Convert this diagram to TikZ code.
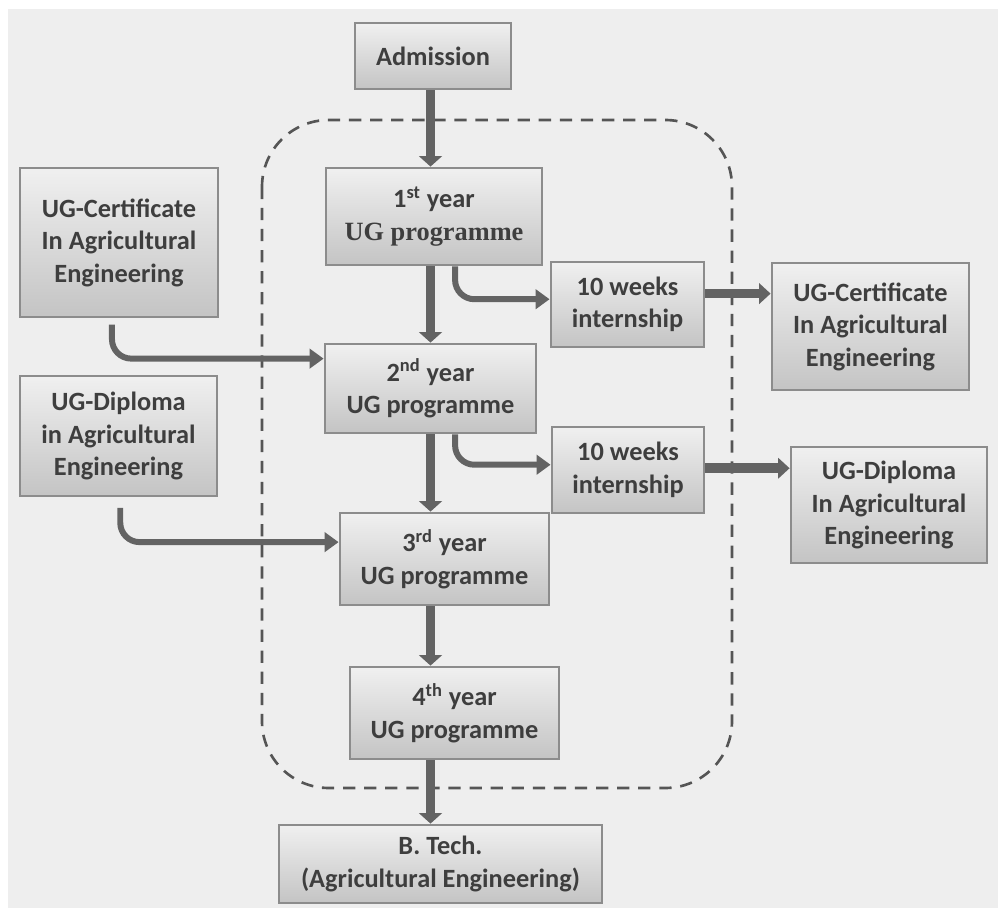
\documentclass[tikz,border=0pt]{standalone}
\usepackage{fontspec}
\setmainfont{Carlito}
\newfontfamily\yearserif{Liberation Serif}
\usetikzlibrary{arrows.meta}

\definecolor{bgfill}{HTML}{EEEEEE}
\definecolor{boxline}{HTML}{8C8C8C}
\definecolor{boxtop}{HTML}{F0F0F0}
\definecolor{boxbot}{HTML}{C4C4C4}
\definecolor{txtgray}{HTML}{3E3E3E}
\definecolor{arrowgray}{HTML}{636363}
\definecolor{framegray}{HTML}{555555}

\tikzset{
    box/.style={draw=boxline, line width=1.6pt, top color=boxtop, bottom color=boxbot,
        text=txtgray, align=center, inner sep=0pt,
        font=\fontsize{15}{18.5}\selectfont\bfseries},
    dims/.style 2 args={minimum width=#1*0.02cm, minimum height=#2*0.02cm},
    flow/.style={draw=arrowgray, line width=5pt, -{Triangle[length=6pt,width=13pt]}},
    exit/.style={draw=arrowgray, line width=5.5pt, -{Triangle[length=6.5pt,width=11.5pt]}},
    entry/.style={draw=arrowgray, line width=3.4pt, rounded corners=11pt,
        -{Triangle[length=8pt,width=11pt]}},
    track/.style={draw=framegray, line width=1.5pt, dash pattern=on 7pt off 5pt,
        rounded corners=38pt}
}

\begin{document}
\begin{tikzpicture}[x=0.02cm, y=-0.02cm]
    \useasboundingbox (0,0) rectangle (998,908);
    \fill[bgfill] (8,9) rectangle (998,908);

    \draw[track] (262,120) rectangle (732,788);

    \node[box, dims={156}{66}] (admission) at (433,56) {Admission};
    \node[box, dims={216}{97}] (year1) at (434,216.5) {1\textsuperscript{st} year\\{\yearserif UG programme}};
    \node[box, dims={198}{149}] (certL) at (119,242.5) {UG-Certificate\\In Agricultural\\Engineering};
    \node[box, dims={153}{85}] (intern1) at (627.5,304.5) {10 weeks\\internship};
    \node[box, dims={197}{127}] (certR) at (870.5,326.5) {UG-Certificate\\In Agricultural\\Engineering};
    \node[box, dims={211}{89}] (year2) at (430.5,388.5) {2\textsuperscript{nd} year\\UG programme};
    \node[box, dims={197}{120}] (diplL) at (118.5,436) {UG-Diploma\\in Agricultural\\Engineering};
    \node[box, dims={152}{86}] (intern2) at (628,470) {10 weeks\\internship};
    \node[box, dims={196}{116}] (diplR) at (889,505) {UG-Diploma\\In Agricultural\\Engineering};
    \node[box, dims={209}{92}] (year3) at (444.5,559) {3\textsuperscript{rd} year\\UG programme};
    \node[box, dims={209}{92}] (year4) at (454.5,713) {4\textsuperscript{th} year\\UG programme};
    \node[box, dims={323}{78}] (btech) at (440.5,864) {B. Tech.\\(Agricultural Engineering)};

    % main line through the four years
    \coordinate (spine) at (430.5,0);
    \draw[flow] (admission.south -| spine) -- (year1.north -| spine);
    \draw[flow] (year1.south -| spine) -- (year2.north -| spine);
    \draw[flow] (year2.south -| spine) -- (year3.north -| spine);
    \draw[flow] (year3.south -| spine) -- (year4.north -| spine);
    \draw[flow] (year4.south -| spine) -- (btech.north -| spine);

    % exits after year 1 and year 2
    \draw[entry] ([xshift=12pt]year1.south) |- ([yshift=3pt]intern1.west);
    \draw[entry] ([xshift=14pt]year2.south) |- ([yshift=3pt]intern2.west);
    \coordinate (out1) at ([yshift=6.2pt]intern1.east);
    \coordinate (out2) at ([yshift=1pt]intern2.east);
    \draw[exit] (out1) -- (out1 -| certR.west);
    \draw[exit] (out2) -- (out2 -| diplR.west);

    % lateral entries
    \draw[entry] ([xshift=-4pt,yshift=-3.5pt]certL.south) |- ([yshift=17pt]year2.west);
    \draw[entry] ([xshift=1pt,yshift=-6pt]diplL.south) |- ([yshift=9.6pt]year3.west);
\end{tikzpicture}
\end{document}
